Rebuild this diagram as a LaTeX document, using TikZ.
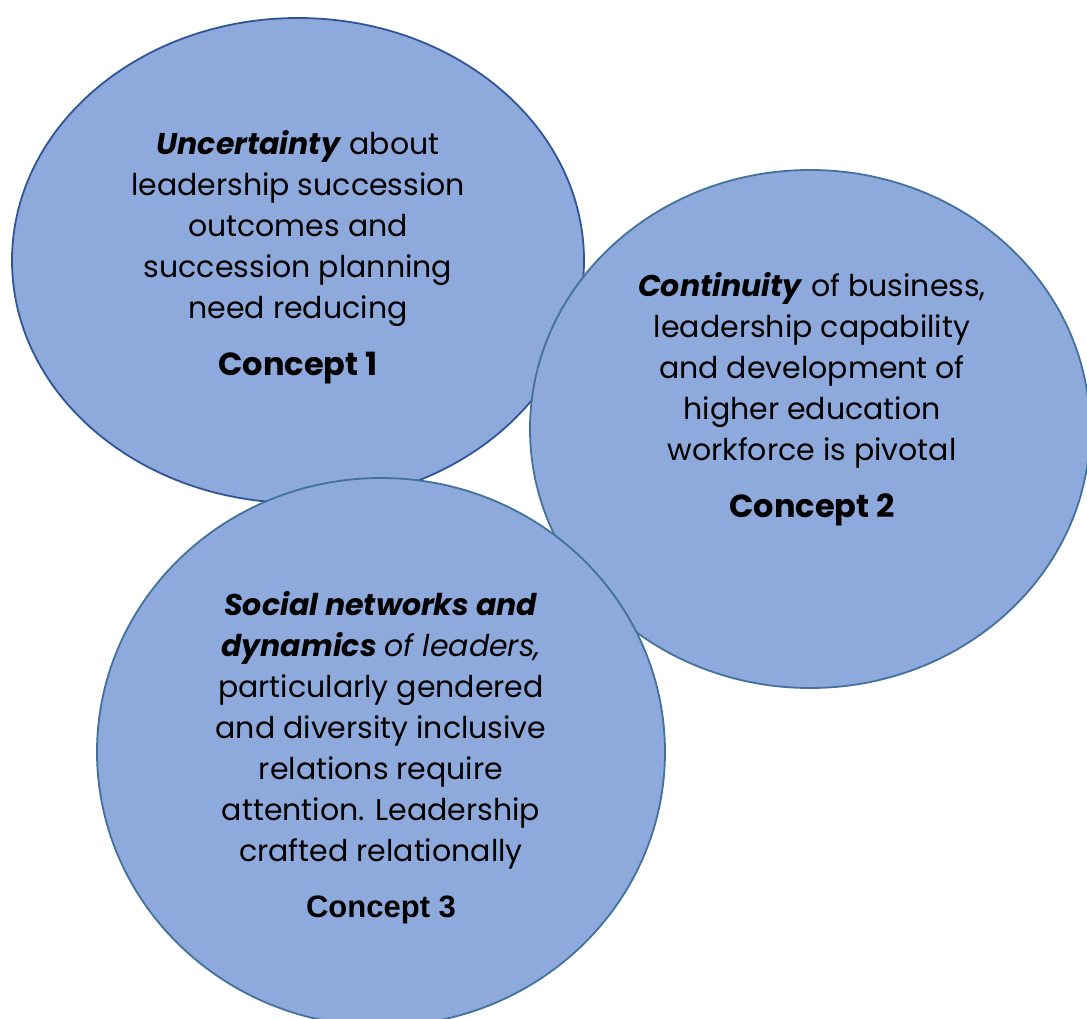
\documentclass[tikz,border=0pt]{standalone}
\usepackage{fontspec}
\usetikzlibrary{shapes.geometric}
\newfontfamily\gothic{Poppins}
\newfontfamily\arialfont{Liberation Sans}
\definecolor{bubble}{HTML}{8EA9DB}
\definecolor{rimA}{HTML}{2F5597}
\definecolor{rimB}{HTML}{41719C}
\newcommand\conceptlabel[1]{{\bfseries\fontsize{32}{41}\selectfont #1}}
\tikzset{
  bubbleshape/.style={ellipse, fill=bubble, line width=1.8pt, inner sep=0pt},
  bubbletext/.style={align=center, inner sep=0pt, font=\gothic\fontsize{30}{41}\selectfont},
}
\begin{document}
\begin{tikzpicture}[x=1pt,y=-1pt]
\useasboundingbox (0,0) rectangle (1087,1019);
% the three concept bubbles, later ones on top
\node[bubbleshape, draw=rimA, minimum width=572pt, minimum height=485pt] (e1) at (298,260.5) {};
\node[bubbleshape, draw=rimB, minimum width=560pt, minimum height=518pt] (e2) at (810,429) {};
\node[bubbleshape, draw=rimB, minimum width=568pt, minimum height=548pt] (e3) at (381,752) {};
% texts
\node[bubbletext] (t1) at (298,257.5) {\textbf{\textit{Uncertainty}} about\\
  leadership succession\\ outcomes and\\ succession planning\\ need reducing\\[16pt]
  \conceptlabel{Concept 1}};
\node[bubbletext] (t2) at (812,399) {\textbf{\textit{Continuity}} of business,\\
  leadership capability\\ and development of\\ higher education\\ workforce is pivotal\\[16pt]
  \conceptlabel{Concept 2}};
\node[bubbletext] (t3) at (381,758) {\textbf{\textit{Social networks and}}\\
  \textbf{\textit{dynamics}} \textit{of leaders,}\\ particularly gendered\\
  and diversity inclusive\\ relations require\\ attention. Leadership\\
  crafted relationally\\[15pt]
  {\arialfont\bfseries\fontsize{31}{41}\selectfont Concept 3}};
\end{tikzpicture}
\end{document}
